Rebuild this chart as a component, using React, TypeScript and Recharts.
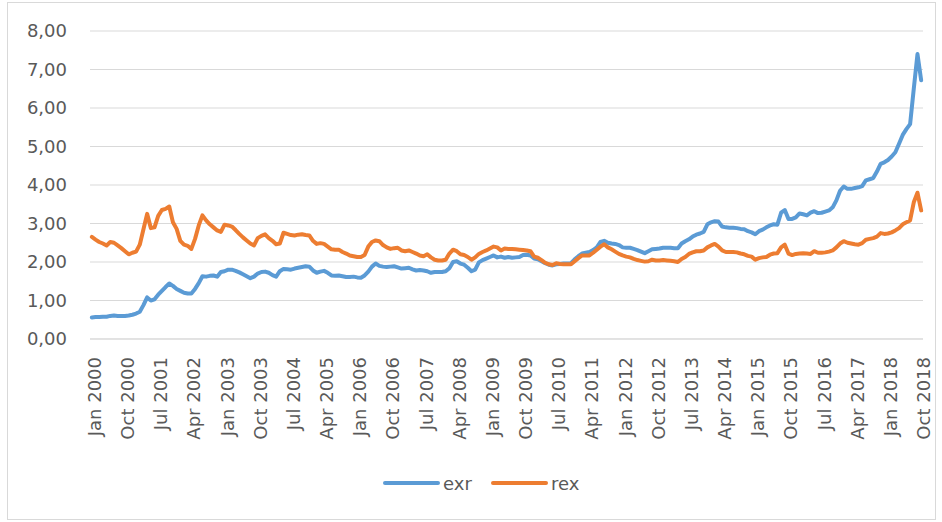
import React from 'react';
import { LineChart, Line, XAxis, YAxis, CartesianGrid, Legend } from 'recharts';

const MONTH_NAMES = ['Jan', 'Feb', 'Mar', 'Apr', 'May', 'Jun', 'Jul', 'Aug', 'Sep', 'Oct', 'Nov', 'Dec'];
const START_YEAR = 2000;

const exr = [
  0.56, 0.57, 0.57, 0.58, 0.58, 0.60, 0.61, 0.60, 0.60, 0.60,
  0.61, 0.63, 0.66, 0.71, 0.88, 1.08, 1.00, 1.03, 1.15, 1.25,
  1.35, 1.44, 1.38, 1.30, 1.25, 1.20, 1.18, 1.18, 1.30, 1.45,
  1.63, 1.62, 1.64, 1.65, 1.62, 1.74, 1.76, 1.80, 1.80, 1.77,
  1.73, 1.68, 1.63, 1.58, 1.62, 1.70, 1.74, 1.75, 1.72, 1.66,
  1.62, 1.76, 1.82, 1.81, 1.80, 1.83, 1.85, 1.87, 1.89, 1.88,
  1.78, 1.72, 1.75, 1.77, 1.72, 1.65, 1.64, 1.65, 1.63, 1.61,
  1.61, 1.62, 1.60, 1.59, 1.65, 1.75, 1.88, 1.96, 1.90, 1.88,
  1.87, 1.88, 1.89, 1.86, 1.83, 1.84, 1.85, 1.81, 1.78, 1.79,
  1.78, 1.76, 1.72, 1.74, 1.74, 1.74, 1.76, 1.84, 2.00, 2.02,
  1.96, 1.93, 1.85, 1.76, 1.80, 1.99, 2.05, 2.09, 2.13, 2.17,
  2.12, 2.14, 2.11, 2.13, 2.11, 2.12, 2.13, 2.18, 2.19, 2.17,
  2.09, 2.07, 2.02, 1.97, 1.93, 1.91, 1.94, 1.95, 1.96, 1.96,
  1.97, 2.07, 2.15, 2.22, 2.24, 2.26, 2.31, 2.38, 2.52, 2.55,
  2.50, 2.48, 2.47, 2.44, 2.38, 2.37, 2.37, 2.34, 2.31, 2.27,
  2.23, 2.28, 2.33, 2.34, 2.35, 2.37, 2.37, 2.37, 2.36, 2.36,
  2.48, 2.54, 2.59, 2.66, 2.71, 2.74, 2.78, 2.98, 3.03, 3.06,
  3.05, 2.92, 2.90, 2.89, 2.89, 2.88, 2.86, 2.85, 2.80, 2.77,
  2.72, 2.80, 2.84, 2.90, 2.95, 2.98, 2.97, 3.28, 3.35, 3.12,
  3.12, 3.16, 3.26, 3.24, 3.21, 3.28, 3.32, 3.27, 3.28, 3.31,
  3.34, 3.42, 3.60, 3.85, 3.96, 3.90, 3.90, 3.92, 3.94, 3.97,
  4.12, 4.15, 4.18, 4.35, 4.55, 4.59, 4.65, 4.74, 4.85, 5.07,
  5.30, 5.45, 5.58, 6.50, 7.40, 6.72,
];

const rex = [
  2.65, 2.58, 2.52, 2.48, 2.43, 2.52, 2.50, 2.43, 2.36, 2.28,
  2.20, 2.24, 2.27, 2.45, 2.85, 3.25, 2.88, 2.90, 3.20, 3.35,
  3.38, 3.44, 3.03, 2.86, 2.55, 2.45, 2.42, 2.34, 2.60, 2.95,
  3.21, 3.08, 2.98, 2.90, 2.82, 2.78, 2.97, 2.95, 2.92, 2.83,
  2.73, 2.64, 2.56, 2.48, 2.43, 2.62, 2.68, 2.72, 2.62, 2.55,
  2.46, 2.48, 2.76, 2.73, 2.70, 2.69, 2.71, 2.72, 2.70, 2.69,
  2.55, 2.47, 2.49, 2.47, 2.40, 2.33, 2.32, 2.32, 2.26, 2.22,
  2.17, 2.15, 2.13, 2.13, 2.18, 2.40, 2.52, 2.56, 2.54, 2.44,
  2.38, 2.34, 2.36, 2.37, 2.30, 2.28, 2.30, 2.26, 2.22, 2.17,
  2.15, 2.20, 2.12, 2.06, 2.04, 2.04, 2.06, 2.22, 2.32, 2.28,
  2.20, 2.18, 2.13, 2.06, 2.12, 2.21, 2.26, 2.30, 2.35, 2.40,
  2.38, 2.30, 2.35, 2.34, 2.34, 2.33, 2.32, 2.31, 2.30, 2.28,
  2.14, 2.11, 2.05, 1.98, 1.94, 1.92, 1.97, 1.95, 1.94, 1.94,
  1.94, 2.02, 2.10, 2.17, 2.17, 2.17, 2.24, 2.32, 2.40, 2.46,
  2.38, 2.33, 2.27, 2.21, 2.17, 2.14, 2.12, 2.08, 2.05, 2.03,
  2.01, 2.02, 2.06, 2.04, 2.04, 2.05, 2.04, 2.03, 2.02, 2.00,
  2.08, 2.13, 2.21, 2.25, 2.28, 2.28, 2.30, 2.38, 2.43, 2.47,
  2.40, 2.30, 2.26, 2.26, 2.26, 2.25, 2.22, 2.20, 2.16, 2.14,
  2.06, 2.10, 2.12, 2.13, 2.19, 2.22, 2.23, 2.38, 2.45, 2.22,
  2.18, 2.21, 2.22, 2.23, 2.22, 2.21, 2.28, 2.24, 2.24, 2.25,
  2.27, 2.30, 2.38, 2.48, 2.54, 2.50, 2.48, 2.46, 2.45, 2.49,
  2.58, 2.60, 2.62, 2.66, 2.75, 2.73, 2.74, 2.77, 2.82, 2.88,
  2.98, 3.03, 3.08, 3.55, 3.80, 3.34,
];

const categories = exr.map((_, i) => `${MONTH_NAMES[i % 12]} ${START_YEAR + Math.floor(i / 12)}`);
const yTicks = [0, 1, 2, 3, 4, 5, 6, 7, 8];

const data = categories.map((c, i) => ({ month: c, exr: exr[i], rex: rex[i] }));

const BLUE = '#5B9BD5';
const ORANGE = '#ED7D31';
const TEXT = '#595959';
const GRID = '#d9d9d9';
const FONT = '"DejaVu Sans", sans-serif';

const XTick = (props: any) => {
  const { x, y, payload } = props;
  return (
    <g transform={`translate(${x},${y})`}>
      <text
        transform="rotate(-90)"
        x={-18}
        y={2.5}
        textAnchor="end"
        dominantBaseline="central"
        fill={TEXT}
        fontSize={18}
        fontFamily={FONT}
      >
        {payload.value}
      </text>
    </g>
  );
};

const renderLegend = () => (
  <svg width={220} height={26}>
    <line x1={7} y1={13} x2={60} y2={13} stroke={BLUE} strokeWidth={4} strokeLinecap="round" />
    <text x={65} y={19.5} fill={TEXT} fontSize={18} fontFamily={FONT}>exr</text>
    <line x1={115} y1={13} x2={168} y2={13} stroke={ORANGE} strokeWidth={4} strokeLinecap="round" />
    <text x={173} y={19.5} fill={TEXT} fontSize={18} fontFamily={FONT}>rex</text>
  </svg>
);

export default function App() {
  return (
    <div style={{ position: 'absolute', left: 0, top: 0, width: 942, height: 522, background: '#fff' }}>
      <div
        style={{
          position: 'absolute',
          left: 7,
          top: 2,
          width: 929,
          height: 518,
          border: `1px solid ${GRID}`,
          boxSizing: 'border-box',
        }}
      />
      <div style={{ position: 'absolute', left: 0, top: 0 }}>
        <LineChart width={942} height={522} data={data} margin={{ top: 31, right: 19, left: 0, bottom: 73 }}>
          <CartesianGrid vertical={false} stroke={GRID} strokeWidth={1} />
          <XAxis
            dataKey="month"
            interval={8}
            tick={<XTick />}
            tickLine={false}
            tickSize={0}
            tickMargin={0}
            height={110}
            axisLine={{ stroke: GRID, strokeWidth: 1 }}
            padding={{ left: 1.85, right: 1.85 }}
          />
          <YAxis
            domain={[0, 8]}
            ticks={yTicks}
            width={90}
            axisLine={false}
            tickLine={false}
            tickSize={0}
            tickMargin={23}
            tickFormatter={(v: number) => v.toFixed(2).replace('.', ',')}
            tick={{ fill: TEXT, fontSize: 18, fontFamily: FONT }}
          />
          <Legend
            layout="horizontal"
            verticalAlign="middle"
            align="center"
            wrapperStyle={{ left: 378, top: 470, width: 220, height: 26 }}
            content={renderLegend}
          />
          <Line
            type="linear"
            dataKey="exr"
            stroke={BLUE}
            strokeWidth={4}
            dot={false}
            strokeLinejoin="round"
            strokeLinecap="round"
            isAnimationActive={false}
          />
          <Line
            type="linear"
            dataKey="rex"
            stroke={ORANGE}
            strokeWidth={4}
            dot={false}
            strokeLinejoin="round"
            strokeLinecap="round"
            isAnimationActive={false}
          />
        </LineChart>
      </div>
    </div>
  );
}
